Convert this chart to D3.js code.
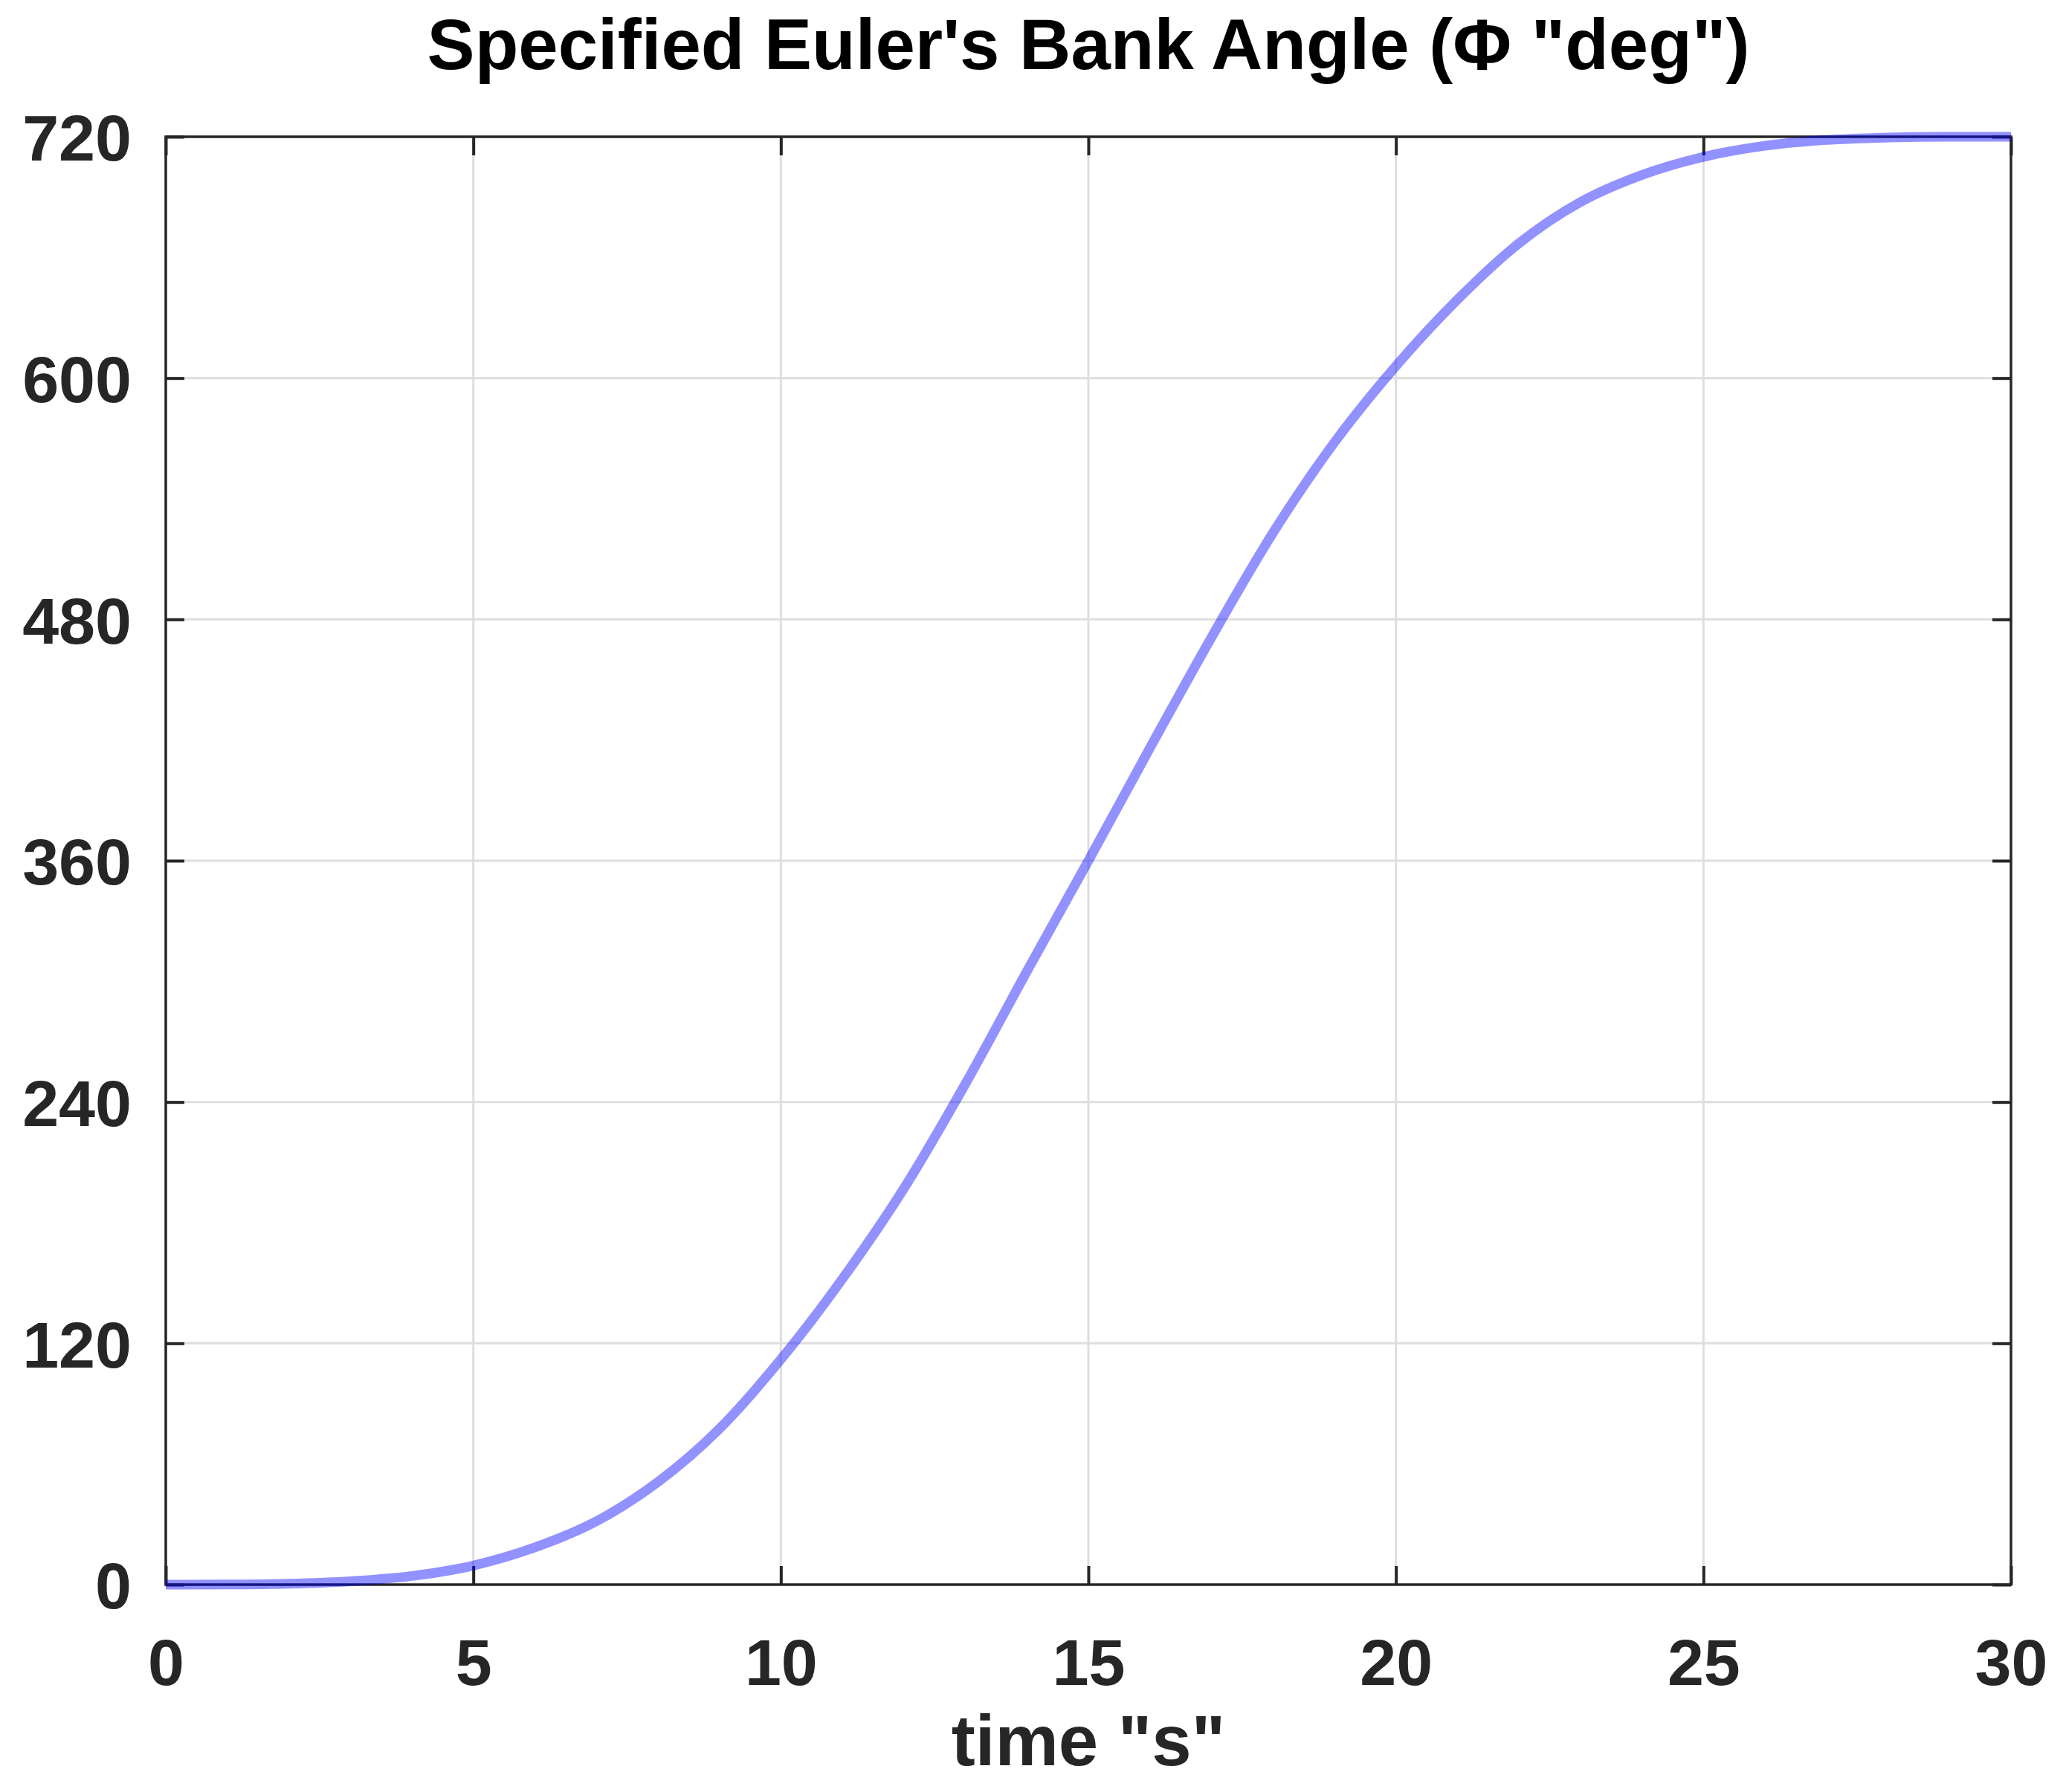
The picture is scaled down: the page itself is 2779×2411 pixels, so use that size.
<!DOCTYPE html>
<html>
<head>
<meta charset="utf-8">
<script src="https://cdn.jsdelivr.net/npm/d3@7.9.0/dist/d3.min.js"></script>
<style>
  html, body { margin: 0; padding: 0; background: #fff; }
  svg { display: block; font-family: "Liberation Sans", Arial, Helvetica, sans-serif; }
</style>
</head>
<body>
<div id="chart"></div>
<script>
// values (time in s, bank angle in deg)
const timeS = [0, 1, 2, 3, 4, 5, 6, 7, 8, 9, 10, 11, 12, 13, 14, 15,
               16, 17, 18, 19, 20, 21, 22, 23, 24, 25, 26, 27, 28, 29, 30];
const bankDeg = [0, 0.1, 0.5, 1.7, 4.3, 9.5, 18.5, 31.5, 51, 77.5, 112, 152, 197, 249, 305, 360,
                 416, 471, 523, 568, 606, 639, 667, 687.5, 701, 710, 715.5, 718.4, 719.6, 720, 720];
const xTicks = [0, 5, 10, 15, 20, 25, 30];
const yTicks = [0, 120, 240, 360, 480, 600, 720];
const titleText = 'Specified Euler\'s Bank Angle (\u03A6 "deg")';
const xLabelText = 'time "s"';

const width = 2779;
const height = 2411;
const margin = { top: 184, right: 74, bottom: 279, left: 223 };
const usable = {
  left: margin.left,
  right: width - margin.right,
  top: margin.top,
  bottom: height - margin.bottom
};

const svg = d3.select('#chart')
  .append('svg')
  .attr('width', width)
  .attr('height', height);

const xScale = d3.scaleLinear().domain([0, 30]).range([usable.left, usable.right]);
const yScale = d3.scaleLinear().domain([0, 720]).range([usable.bottom, usable.top]);

const tickLen = 25;
const textColor = '#262626';

// gridlines
const grid = svg.append('g').attr('class', 'grid')
  .attr('stroke', '#dedede').attr('stroke-width', 3);
grid.selectAll('line.gx')
  .data(xTicks.slice(1, -1))
  .join('line')
    .attr('class', 'gx')
    .attr('x1', d => xScale(d)).attr('x2', d => xScale(d))
    .attr('y1', usable.top).attr('y2', usable.bottom);
grid.selectAll('line.gy')
  .data(yTicks.slice(1, -1))
  .join('line')
    .attr('class', 'gy')
    .attr('x1', usable.left).attr('x2', usable.right)
    .attr('y1', d => yScale(d)).attr('y2', d => yScale(d));

// axes with inward ticks on all four sides
function styleAxis(g) {
  g.select('.domain').remove();
  g.selectAll('.tick line').attr('stroke', textColor).attr('stroke-width', 4);
  g.selectAll('.tick text')
    .attr('fill', textColor)
    .attr('font-size', 88)
    .attr('font-weight', 'bold')
    .attr('font-family', '"Liberation Sans", Arial, sans-serif');
}

svg.append('g')
  .attr('transform', `translate(0,${usable.bottom})`)
  .call(d3.axisBottom(xScale).tickValues(xTicks).tickSizeInner(-tickLen).tickSizeOuter(0).tickFormat(d3.format('d')))
  .call(styleAxis)
  .call(g => g.selectAll('.tick text').attr('dy', 0).attr('y', 135));

svg.append('g')
  .attr('transform', `translate(0,${usable.top})`)
  .call(d3.axisTop(xScale).tickValues(xTicks).tickSizeInner(-tickLen).tickSizeOuter(0).tickFormat(''))
  .call(styleAxis);

svg.append('g')
  .attr('transform', `translate(${usable.left},0)`)
  .call(d3.axisLeft(yScale).tickValues(yTicks).tickSizeInner(-tickLen).tickSizeOuter(0).tickFormat(d3.format('d')))
  .call(styleAxis)
  .call(g => g.selectAll('.tick text').attr('x', -46).attr('dy', '0.36em'));

svg.append('g')
  .attr('transform', `translate(${usable.right},0)`)
  .call(d3.axisRight(yScale).tickValues(yTicks).tickSizeInner(-tickLen).tickSizeOuter(0).tickFormat(''))
  .call(styleAxis);

// plot box
svg.append('rect')
  .attr('x', usable.left)
  .attr('y', usable.top)
  .attr('width', usable.right - usable.left)
  .attr('height', usable.bottom - usable.top)
  .attr('fill', 'none')
  .attr('stroke', textColor)
  .attr('stroke-width', 3.5);

// curve
const line = d3.line()
  .x((d, i) => xScale(timeS[i]))
  .y(d => yScale(d))
  .curve(d3.curveMonotoneX);

svg.append('path')
  .datum(bankDeg)
  .attr('d', line)
  .attr('fill', 'none')
  .attr('stroke', '#0000ff')
  .attr('stroke-opacity', 0.43)
  .attr('stroke-width', 13);

// title and axis label
svg.append('text')
  .attr('x', (usable.left + usable.right) / 2)
  .attr('y', 93)
  .attr('text-anchor', 'middle')
  .attr('font-size', 96)
  .attr('font-weight', 'bold')
  .attr('fill', '#000')
  .text(titleText);

svg.append('text')
  .attr('x', (usable.left + usable.right) / 2)
  .attr('y', 2375)
  .attr('text-anchor', 'middle')
  .attr('font-size', 96)
  .attr('font-weight', 'bold')
  .attr('fill', textColor)
  .text(xLabelText);
</script>
</body>
</html>
